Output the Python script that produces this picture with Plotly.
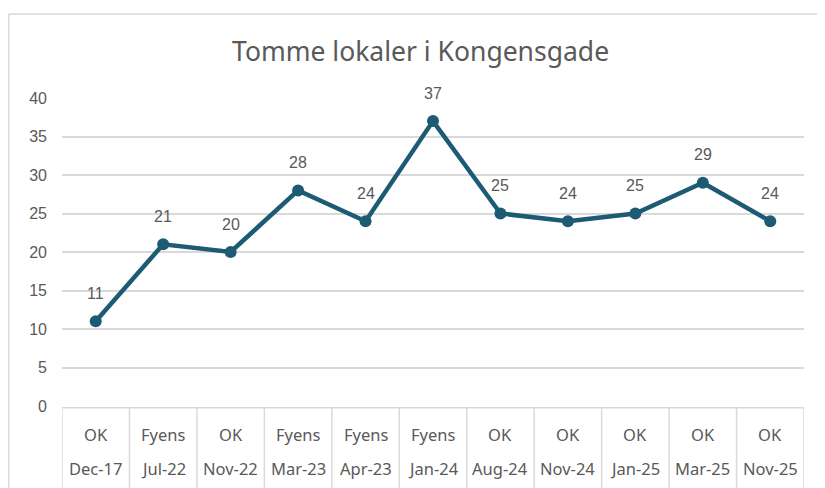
import plotly.graph_objects as go

# Data
sources = ["OK", "Fyens", "OK", "Fyens", "Fyens", "Fyens", "OK", "OK", "OK", "OK", "OK"]
dates = ["Dec-17", "Jul-22", "Nov-22", "Mar-23", "Apr-23", "Jan-24", "Aug-24",
         "Nov-24", "Jan-25", "Mar-25", "Nov-25"]
values = [11, 21, 20, 28, 24, 37, 25, 24, 25, 29, 24]
y_ticks = [0, 5, 10, 15, 20, 25, 30, 35, 40]

LINE_COLOR = "#1d5a73"
TEXT_COLOR = "#595959"
GRID_COLOR = "#d9d9d9"

xs = list(range(len(values)))

fig = go.Figure()
fig.add_trace(go.Scatter(
    x=xs, y=values, mode="lines+markers",
    line=dict(color=LINE_COLOR, width=4.5),
    marker=dict(color=LINE_COLOR, size=12),
    hoverinfo="skip", showlegend=False,
))

annotations = []
for x, v in zip(xs, values):
    annotations.append(dict(x=x, y=v, xref="x", yref="y", text=str(v), showarrow=False,
                            yanchor="middle", yshift=28,
                            font=dict(family="Liberation Sans, Arial", size=16, color=TEXT_COLOR)))
for x, s, d in zip(xs, sources, dates):
    annotations.append(dict(x=x, y=0, xref="x", yref="paper", text=s, showarrow=False,
                            yanchor="middle", yshift=-28,
                            font=dict(family="Noto Sans", size=16.5, color=TEXT_COLOR)))
    annotations.append(dict(x=x, y=0, xref="x", yref="paper", text=d, showarrow=False,
                            yanchor="middle", yshift=-62,
                            font=dict(family="Noto Sans", size=16.5, color=TEXT_COLOR)))

shapes = []
# vertical separators of category table
for i in range(len(values) + 1):
    shapes.append(dict(type="line", xref="x", yref="paper", x0=i - 0.5, x1=i - 0.5,
                       y0=-0.006, y1=-0.3, line=dict(color=GRID_COLOR, width=1.5)))
# top table line
shapes.append(dict(type="line", xref="x", yref="paper", x0=-0.5, x1=len(values) - 0.5,
                   y0=-0.006, y1=-0.006, line=dict(color=GRID_COLOR, width=1.5)))
# chart frame (top and left)
shapes.append(dict(type="line", xref="paper", yref="paper", x0=-0.0718, x1=1.05,
                   y0=1.2727, y1=1.2727, line=dict(color=GRID_COLOR, width=1.5)))
shapes.append(dict(type="line", xref="paper", yref="paper", x0=-0.0718, x1=-0.0718,
                   y0=1.2727, y1=-0.3, line=dict(color=GRID_COLOR, width=1.5)))

fig.update_layout(
    width=817, height=480,
    margin=dict(l=54, r=21, t=90, b=82),
    paper_bgcolor="white", plot_bgcolor="white",
    title=dict(text="Tomme lokaler i Kongensgade", x=0.505, xanchor="center",
               y=1 - 44 / 480, yanchor="middle",
               font=dict(family="Noto Sans", size=26.5, color=TEXT_COLOR)),
    xaxis=dict(range=[-0.5, len(values) - 0.5], showticklabels=False, showgrid=False,
               zeroline=False, showline=False, fixedrange=True),
    yaxis=dict(range=[0, 40], tickvals=y_ticks, showgrid=True, gridcolor=GRID_COLOR,
               gridwidth=1.5, zeroline=False, showline=False, ticklabelstandoff=14,
               tickfont=dict(family="Liberation Sans, Arial", size=16, color=TEXT_COLOR),
               fixedrange=True),
    annotations=annotations,
    shapes=shapes,
)

fig.write_html("out.html")
